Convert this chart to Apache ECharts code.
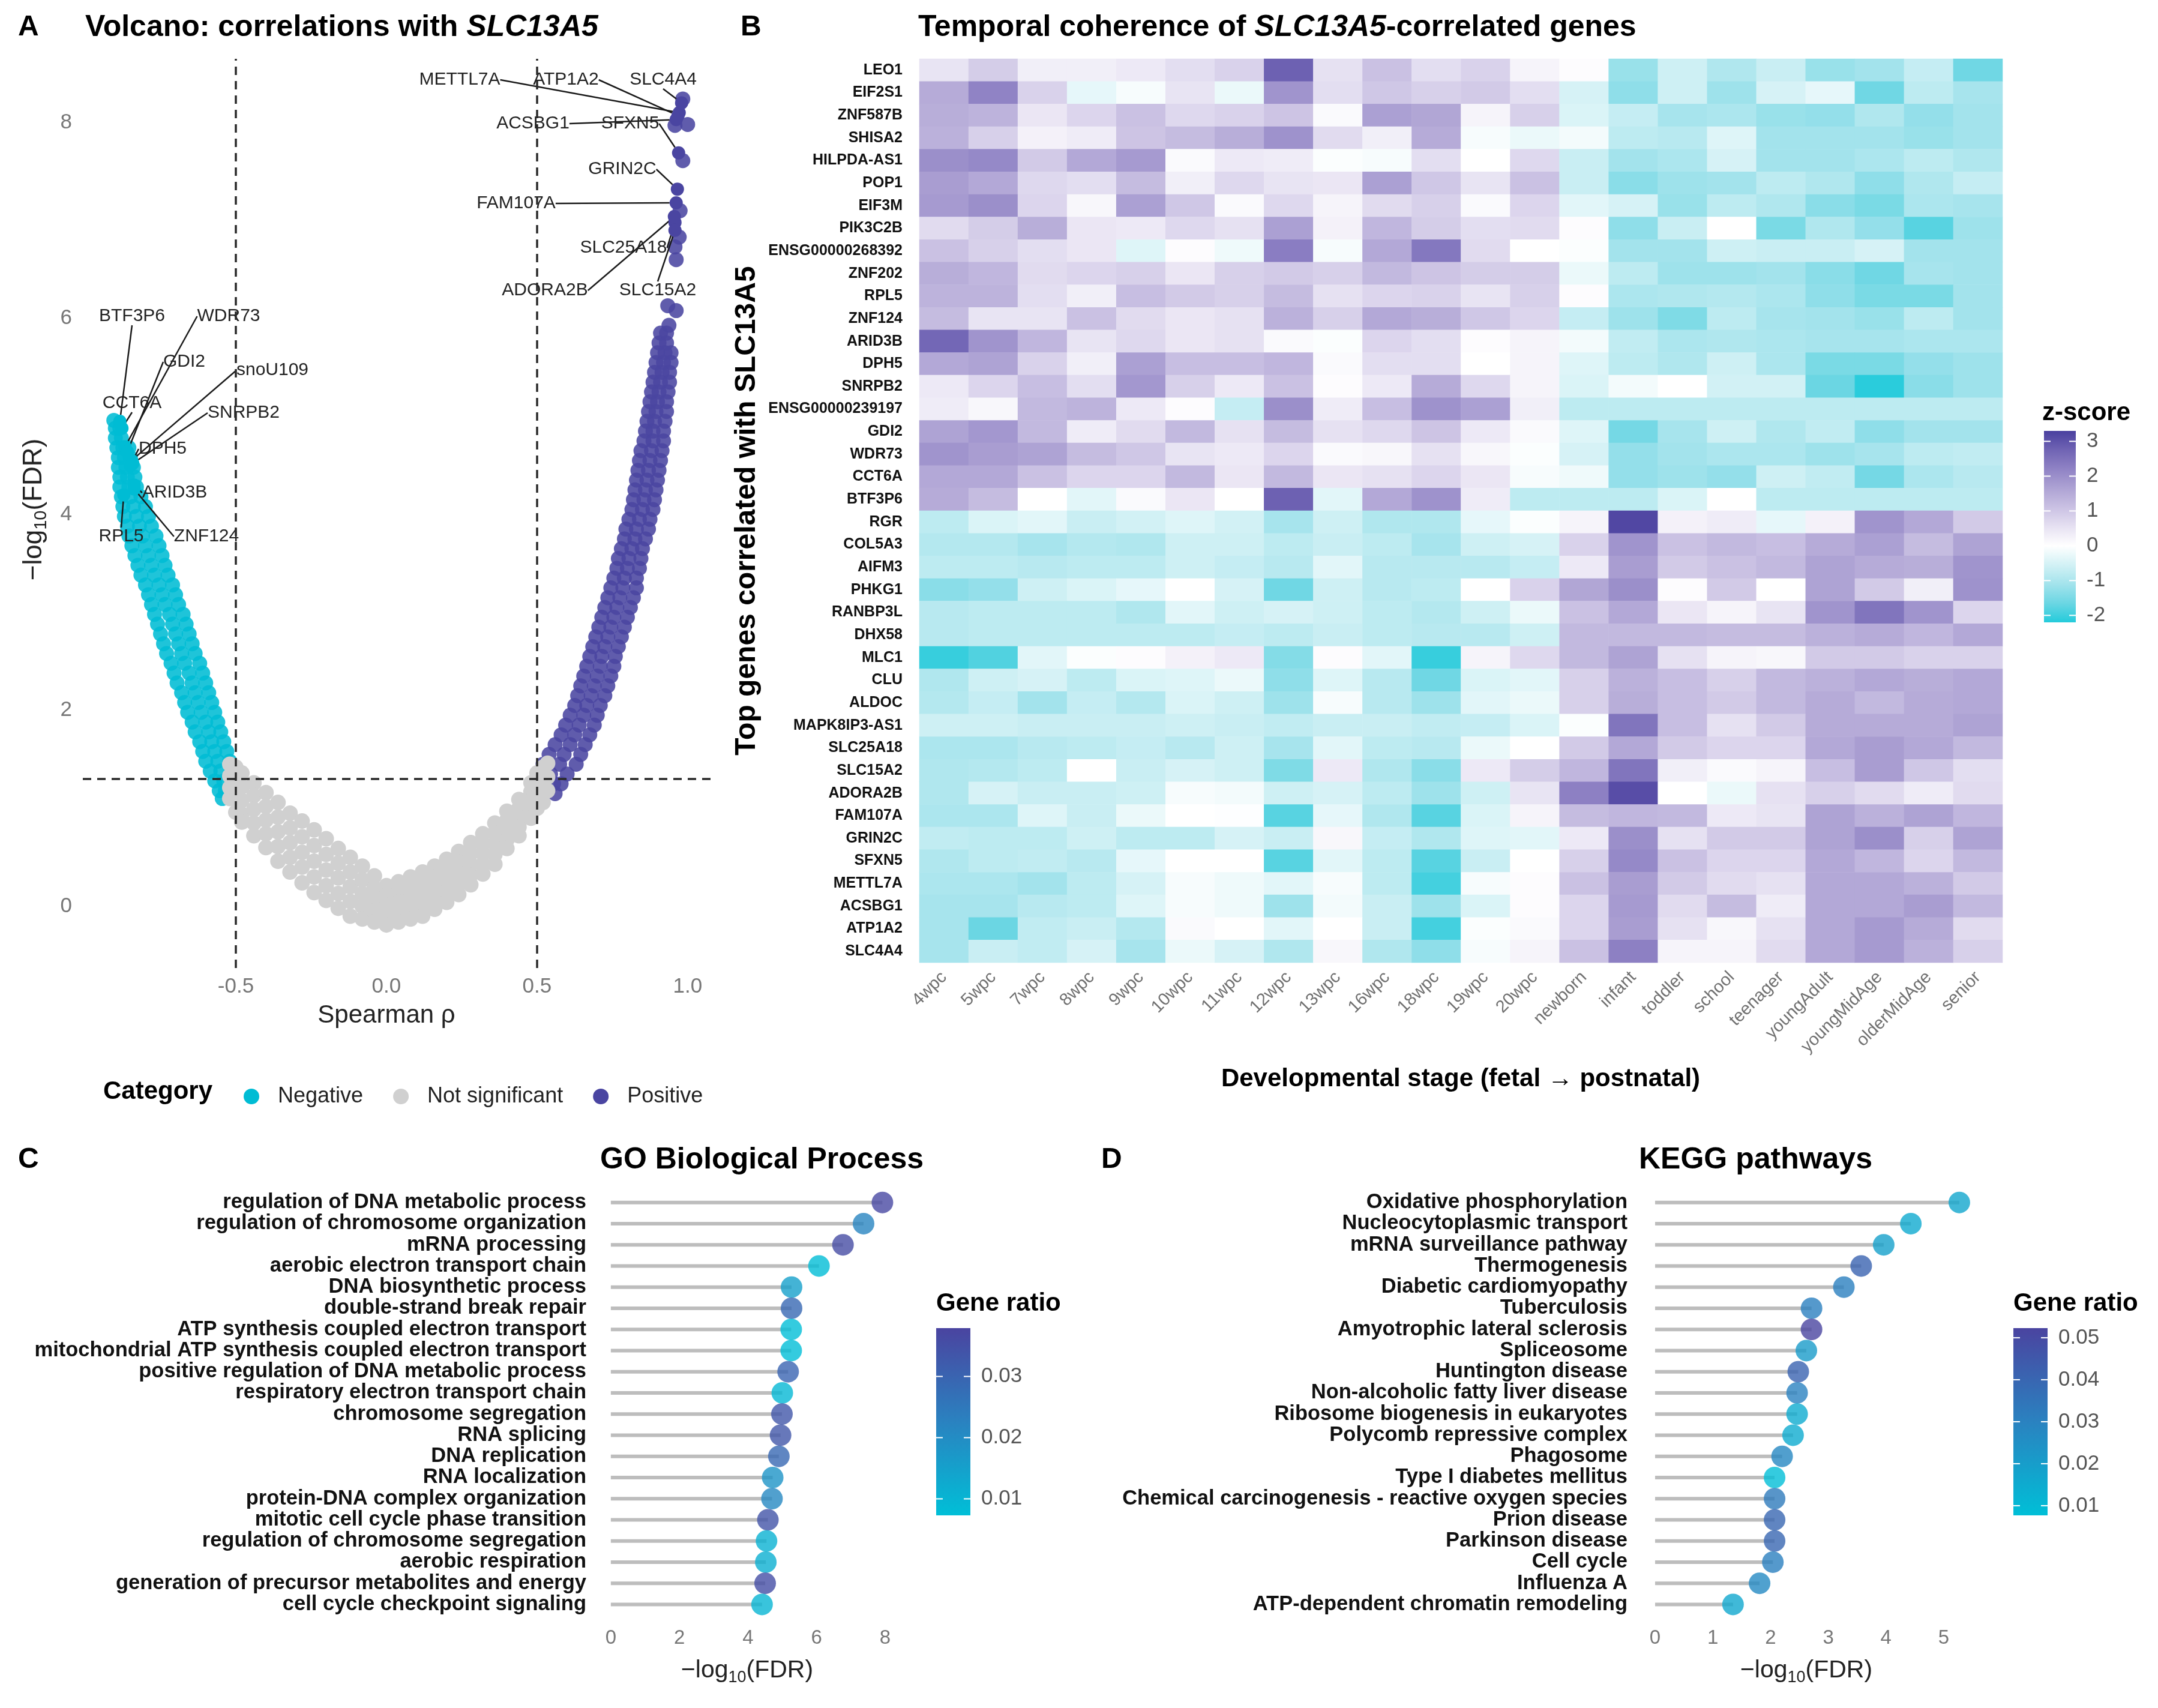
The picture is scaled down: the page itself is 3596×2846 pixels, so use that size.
<!DOCTYPE html>
<html><head><meta charset="utf-8">
<script src="https://cdn.jsdelivr.net/npm/echarts@6/dist/echarts.min.js"></script>
<style>html,body{margin:0;padding:0;background:#fff}#c{width:3596px;height:2846px}</style>
</head><body><div id="c"></div>
<script>
// ---------------- DATA ----------------
// Panel A: volcano (Spearman rho, -log10 FDR)
const negPoints = [
[-0.905,4.96],[-0.900,4.88],[-0.885,4.88],[-0.900,4.78],[-0.880,4.78],
[-0.895,4.68],[-0.875,4.68],[-0.855,4.68],[-0.890,4.58],[-0.870,4.58],[-0.850,4.58],
[-0.890,4.48],[-0.865,4.48],[-0.840,4.48],[-0.885,4.38],[-0.860,4.38],[-0.835,4.38],
[-0.885,4.28],[-0.855,4.28],[-0.830,4.28],[-0.880,4.18],[-0.850,4.18],[-0.815,4.18],
[-0.875,4.08],[-0.840,4.08],[-0.800,4.08],[-0.870,3.98],[-0.830,3.98],[-0.790,3.98],
[-0.860,3.88],[-0.820,3.88],[-0.780,3.88],[-0.855,3.78],[-0.810,3.78],[-0.765,3.78],
[-0.845,3.68],[-0.800,3.68],[-0.755,3.68],[-0.835,3.58],[-0.790,3.58],[-0.745,3.58],
[-0.825,3.48],[-0.780,3.48],[-0.735,3.48],[-0.815,3.38],[-0.770,3.38],[-0.725,3.38],
[-0.800,3.28],[-0.755,3.28],[-0.710,3.28],[-0.790,3.18],[-0.745,3.18],[-0.700,3.18],
[-0.780,3.08],[-0.735,3.08],[-0.690,3.08],[-0.770,2.98],[-0.720,2.98],[-0.675,2.98],
[-0.760,2.88],[-0.710,2.88],[-0.665,2.88],[-0.750,2.78],[-0.700,2.78],[-0.655,2.78],
[-0.740,2.68],[-0.690,2.68],[-0.645,2.68],[-0.730,2.58],[-0.680,2.58],[-0.635,2.58],
[-0.715,2.48],[-0.670,2.48],[-0.620,2.48],[-0.705,2.38],[-0.655,2.38],[-0.610,2.38],
[-0.695,2.28],[-0.645,2.28],[-0.600,2.28],[-0.680,2.18],[-0.635,2.18],[-0.590,2.18],
[-0.670,2.08],[-0.625,2.08],[-0.580,2.08],[-0.660,1.98],[-0.615,1.98],[-0.570,1.98],
[-0.645,1.88],[-0.600,1.88],[-0.560,1.88],[-0.635,1.78],[-0.590,1.78],[-0.550,1.78],
[-0.620,1.68],[-0.580,1.68],[-0.540,1.68],[-0.610,1.58],[-0.570,1.58],[-0.530,1.58],
[-0.600,1.48],[-0.560,1.48],[-0.520,1.48],[-0.585,1.38],[-0.550,1.38],[-0.515,1.38],
[-0.570,1.28],[-0.540,1.28],[-0.555,1.18],[-0.535,1.18],[-0.545,1.10]
];
const nsPoints = [
[-0.52,1.45],[-0.52,1.33],[-0.52,1.21],[-0.52,1.10],
[-0.50,1.42],[-0.50,1.26],[-0.50,1.10],[-0.50,0.96],
[-0.48,1.36],[-0.48,1.22],[-0.48,1.08],[-0.48,0.94],[-0.48,0.86],
[-0.44,1.26],[-0.44,1.13],[-0.44,0.99],[-0.44,0.85],[-0.44,0.72],
[-0.40,1.16],[-0.40,1.02],[-0.40,0.88],[-0.40,0.74],[-0.40,0.60],
[-0.36,1.06],[-0.36,0.91],[-0.36,0.76],[-0.36,0.61],[-0.36,0.46],
[-0.32,0.95],[-0.32,0.80],[-0.32,0.65],[-0.32,0.50],[-0.32,0.35],
[-0.28,0.87],[-0.28,0.71],[-0.28,0.55],[-0.28,0.40],[-0.28,0.24],
[-0.24,0.78],[-0.24,0.62],[-0.24,0.46],[-0.24,0.30],[-0.24,0.14],
[-0.20,0.69],[-0.20,0.53],[-0.20,0.37],[-0.20,0.21],[-0.20,0.06],
[-0.16,0.59],[-0.16,0.44],[-0.16,0.29],[-0.16,0.13],[-0.16,-0.02],
[-0.12,0.50],[-0.12,0.35],[-0.12,0.20],[-0.12,0.05],[-0.12,-0.10],
[-0.08,0.41],[-0.08,0.27],[-0.08,0.13],[-0.08,0.00],[-0.08,-0.13],
[-0.04,0.31],[-0.04,0.19],[-0.04,0.07],[-0.04,-0.05],[-0.04,-0.16],
[0.00,0.21],[0.00,0.11],[0.00,0.01],[0.00,-0.09],[0.00,-0.19],
[0.04,0.25],[0.04,0.14],[0.04,0.04],[0.04,-0.06],[0.04,-0.16],
[0.08,0.30],[0.08,0.19],[0.08,0.08],[0.08,-0.03],[0.08,-0.13],
[0.12,0.35],[0.12,0.23],[0.12,0.12],[0.12,0.01],[0.12,-0.10],
[0.16,0.41],[0.16,0.30],[0.16,0.19],[0.16,0.08],[0.16,-0.03],
[0.20,0.48],[0.20,0.37],[0.20,0.26],[0.20,0.15],[0.20,0.04],
[0.24,0.56],[0.24,0.45],[0.24,0.34],[0.24,0.23],[0.24,0.12],
[0.28,0.65],[0.28,0.54],[0.28,0.43],[0.28,0.32],[0.28,0.22],
[0.32,0.74],[0.32,0.64],[0.32,0.54],[0.32,0.43],[0.32,0.33],
[0.36,0.85],[0.36,0.75],[0.36,0.64],[0.36,0.53],[0.36,0.43],
[0.40,0.97],[0.40,0.88],[0.40,0.78],[0.40,0.68],[0.40,0.59],
[0.44,1.09],[0.44,1.00],[0.44,0.91],[0.44,0.81],[0.44,0.72],
[0.48,1.26],[0.48,1.17],[0.48,1.08],[0.48,0.99],[0.48,0.90],
[0.50,1.36],[0.50,1.24],[0.50,1.12],[0.50,1.00],
[0.52,1.42],[0.52,1.30],[0.52,1.18],[0.52,1.06],
[0.535,1.46],[0.535,1.32],[0.535,1.18]
];
const posPoints = [
[0.984,8.24],[0.958,7.97],[1.000,7.98],[0.984,7.61],[0.975,7.10],[0.972,6.83],
[0.958,6.73],[0.962,6.60],[0.934,6.13],[0.962,6.08],[0.938,5.93],
[0.910,5.85],[0.930,5.85],[0.905,5.75],[0.930,5.75],
[0.900,5.65],[0.925,5.65],[0.945,5.65],[0.895,5.55],[0.920,5.55],[0.945,5.55],
[0.890,5.45],[0.915,5.45],[0.940,5.45],[0.885,5.35],[0.910,5.35],[0.940,5.35],
[0.880,5.25],[0.905,5.25],[0.935,5.25],[0.875,5.15],[0.900,5.15],[0.930,5.15],
[0.870,5.05],[0.895,5.05],[0.930,5.05],[0.865,4.95],[0.890,4.95],[0.925,4.95],
[0.860,4.85],[0.885,4.85],[0.920,4.85],[0.855,4.75],[0.885,4.75],[0.920,4.75],
[0.845,4.65],[0.880,4.65],[0.915,4.65],[0.840,4.55],[0.875,4.55],[0.910,4.55],
[0.835,4.45],[0.870,4.45],[0.905,4.45],[0.830,4.35],[0.865,4.35],[0.900,4.35],
[0.825,4.25],[0.860,4.25],[0.895,4.25],[0.820,4.15],[0.855,4.15],[0.890,4.15],
[0.815,4.05],[0.850,4.05],[0.885,4.05],[0.805,3.95],[0.840,3.95],[0.875,3.95],
[0.795,3.85],[0.830,3.85],[0.870,3.85],[0.790,3.75],[0.825,3.75],[0.860,3.75],
[0.780,3.65],[0.815,3.65],[0.850,3.65],[0.770,3.55],[0.805,3.55],[0.845,3.55],
[0.765,3.45],[0.800,3.45],[0.840,3.45],[0.755,3.35],[0.790,3.35],[0.830,3.35],
[0.745,3.25],[0.785,3.25],[0.830,3.25],[0.735,3.15],[0.775,3.15],[0.820,3.15],
[0.725,3.05],[0.765,3.05],[0.810,3.05],[0.715,2.95],[0.755,2.95],[0.800,2.95],
[0.705,2.85],[0.745,2.85],[0.790,2.85],[0.695,2.75],[0.735,2.75],[0.780,2.75],
[0.685,2.65],[0.725,2.65],[0.770,2.65],[0.675,2.55],[0.715,2.55],[0.760,2.55],
[0.665,2.45],[0.710,2.45],[0.755,2.45],[0.655,2.35],[0.700,2.35],[0.745,2.35],
[0.645,2.25],[0.690,2.25],[0.735,2.25],[0.635,2.15],[0.680,2.15],[0.725,2.15],
[0.625,2.05],[0.665,2.05],[0.710,2.05],[0.610,1.95],[0.655,1.95],[0.700,1.95],
[0.595,1.85],[0.640,1.85],[0.690,1.85],[0.580,1.75],[0.625,1.75],[0.675,1.75],
[0.560,1.65],[0.610,1.65],[0.660,1.65],[0.540,1.55],[0.590,1.55],[0.645,1.55],
[0.520,1.45],[0.575,1.45],[0.630,1.45],[0.545,1.35],[0.600,1.35],
[0.555,1.25],[0.580,1.25],[0.560,1.15]
];
const negLabelGenes = ['BTF3P6','WDR73','GDI2','snoU109','CCT6A','SNRPB2','DPH5','ARID3B','RPL5','ZNF124'];
const negLabelPoints = [[-0.885,4.95],[-0.868,4.69],[-0.860,4.64],[-0.846,4.55],[-0.878,4.88],[-0.842,4.52],[-0.850,4.50],[-0.838,4.30],[-0.872,4.20],[-0.838,4.26]];
const posLabelGenes = ['METTL7A','ATP1A2','SLC4A4','ACSBG1','SFXN5','GRIN2C','FAM107A','SLC25A18','ADORA2B','SLC15A2'];
const posLabelPoints = [[0.972,8.10],[0.968,8.07],[0.980,8.20],[0.962,8.03],[0.970,7.69],[0.966,7.32],[0.962,7.18],[0.958,6.98],[0.956,7.04],[0.958,6.90]];
const volcanoXTicks = [-0.5, 0, 0.5, 1.0];
const volcanoYTicks = [0, 2, 4, 6, 8];

// Panel B: heatmap
const stages = ['4wpc','5wpc','7wpc','8wpc','9wpc','10wpc','11wpc','12wpc','13wpc','16wpc','18wpc','19wpc','20wpc','newborn','infant','toddler','school','teenager','youngAdult','youngMidAge','olderMidAge','senior'];
const genes = ['LEO1','EIF2S1','ZNF587B','SHISA2','HILPDA-AS1','POP1','EIF3M','PIK3C2B','ENSG00000268392','ZNF202','RPL5','ZNF124','ARID3B','DPH5','SNRPB2','ENSG00000239197','GDI2','WDR73','CCT6A','BTF3P6','RGR','COL5A3','AIFM3','PHKG1','RANBP3L','DHX58','MLC1','CLU','ALDOC','MAPK8IP3-AS1','SLC25A18','SLC15A2','ADORA2B','FAM107A','GRIN2C','SFXN5','METTL7A','ACSBG1','ATP1A2','SLC4A4'];
const zScores = [
[0.5,0.9,0.3,0.3,0.4,0.6,0.8,2.8,0.55,1.1,0.6, 0.8,0.2,0.05,-1.2,-0.6,-0.95,-0.65,-1.2,-1.1,-0.7,-1.6],
[1.5,2.2,0.8,-0.3,-0.1,0.5,-0.25,1.9,0.6,1.0,0.85, 0.95,0.6,-0.5,-1.3,-0.6,-1.15,-0.5,-0.3,-1.6,-0.8,-1.05],
[1.45,1.35,0.45,0.75,1.1,0.7,0.8,1.05,0.1,1.7,1.6, 0.2,0.85,-0.45,-0.7,-1.05,-1.0,-1.2,-1.25,-0.95,-1.25,-1.1],
[1.4,0.85,0.25,0.35,1.05,1.2,1.45,1.95,0.65,0.3,1.5, -0.1,-0.25,-0.15,-0.8,-0.85,-0.4,-1.1,-1.1,-1.1,-1.2,-1.1],
[2.0,2.1,0.95,1.55,1.8,0.1,0.4,0.35,-0.05,-0.1,0.6, 0.0,0.7,-0.65,-1.1,-1.0,-0.5,-1.1,-1.1,-1.0,-0.8,-0.95],
[1.75,1.55,0.7,0.6,1.2,0.3,0.7,0.5,0.45,1.7,1.0, 0.5,1.1,-0.65,-1.35,-1.15,-1.1,-0.8,-0.95,-1.3,-0.95,-0.7],
[1.8,2.0,0.75,0.15,1.7,1.0,0.1,0.7,0.2,0.65,0.85, 0.1,0.75,-0.35,-0.5,-1.2,-0.8,-0.95,-1.35,-1.5,-1.0,-1.05],
[0.65,0.9,1.45,0.45,0.4,0.7,0.55,1.7,0.25,1.3,0.9, 0.6,0.65,0.05,-1.3,-0.65,0.0,-1.5,-0.95,-1.25,-1.8,-1.15],
[1.1,0.85,0.6,0.45,-0.4,0.05,-0.2,2.3,-0.1,1.55,2.4, 0.65,0.0,-0.05,-1.1,-1.1,-0.6,-0.65,-0.65,-0.5,-1.1,-1.1],
[1.45,1.3,0.65,0.75,0.85,0.45,0.85,0.95,0.85,1.25,1.05, 0.9,0.9,-0.25,-0.8,-1.15,-1.15,-1.1,-1.35,-1.6,-1.05,-1.1],
[1.35,1.35,0.6,0.3,1.15,0.95,0.85,1.2,0.55,0.75,0.8, 0.5,0.85,0.05,-1.0,-0.95,-0.9,-1.0,-1.3,-1.5,-1.5,-1.1],
[1.2,0.5,0.5,1.1,0.65,0.45,0.55,1.4,0.85,1.55,1.45, 1.0,0.75,-0.7,-1.15,-1.45,-0.8,-1.05,-1.1,-1.2,-0.8,-1.1],
[2.7,1.9,1.3,0.5,0.7,0.45,0.55,0.1,-0.05,0.75,0.6, 0.05,0.2,-0.15,-0.75,-1.0,-0.95,-1.0,-1.05,-1.05,-1.0,-1.0],
[1.55,1.65,0.8,0.3,1.7,1.15,1.15,1.3,0.1,0.6,0.6, 0.0,0.2,-0.4,-0.8,-0.95,-0.6,-1.0,-1.5,-1.5,-1.25,-1.15],
[0.4,0.75,1.15,0.6,1.85,0.85,0.4,1.1,0.05,0.4,1.5, 0.7,0.2,-0.45,-0.15,0.0,-0.55,-0.55,-1.65,-2.15,-1.35,-1.15],
[0.35,0.15,1.25,1.35,0.4,0.05,-0.7,2.0,0.35,1.15,1.95, 1.7,0.3,-0.8,-0.8,-0.8,-0.8,-0.8,-0.8,-0.8,-0.8,-0.8],
[1.65,1.85,1.25,0.35,0.65,1.25,0.55,1.2,0.55,0.7,1.05, 0.4,0.1,-0.4,-1.55,-1.05,-0.6,-0.95,-0.75,-1.3,-1.1,-1.1],
[1.9,1.75,1.65,1.2,1.0,0.5,0.4,0.75,0.1,0.15,0.55, 0.15,-0.05,-0.5,-1.25,-1.1,-1.0,-1.0,-1.15,-1.05,-0.8,-0.75],
[1.55,1.55,1.1,0.75,0.75,1.25,0.45,1.25,0.45,0.55,0.75, 0.45,-0.1,-0.2,-1.25,-1.15,-1.25,-0.6,-0.75,-1.55,-1.0,-0.85],
[1.5,1.2,0.0,-0.35,0.1,0.45,0.0,2.8,-0.35,1.55,1.95, 0.35,-0.8,-0.8,-0.8,-0.45,0.0,-0.8,-0.8,-0.8,-0.8,-0.8],
[-0.8,-0.45,-0.35,-0.65,-0.55,-0.4,-0.55,-1.05,-0.6,-0.95,-0.95, -0.3,-0.05,0.2,3.2,0.25,0.35,-0.3,0.25,1.9,1.55,0.95],
[-0.9,-0.9,-1.05,-0.9,-0.95,-0.6,-0.6,-0.8,-0.65,-0.8,-1.05, -0.6,-0.5,0.8,1.9,1.1,1.25,1.15,1.5,1.7,1.2,1.65],
[-0.8,-0.8,-0.85,-0.8,-0.8,-0.6,-0.7,-0.85,-0.35,-0.85,-0.85, -0.85,-0.7,0.4,1.75,0.95,1.1,1.25,1.65,1.5,1.45,1.9],
[-1.35,-1.25,-0.6,-0.45,-0.3,0.0,-0.5,-1.6,-0.6,-0.85,-0.8, 0.0,0.8,1.6,2.0,0.05,0.95,0.0,1.65,0.95,0.3,1.95],
[-0.85,-0.8,-0.8,-0.8,-0.95,-0.35,-0.6,-0.5,-0.6,-0.8,-0.9, -0.6,-0.25,1.1,1.55,0.45,0.2,0.5,1.9,2.45,1.9,0.75],
[-0.85,-0.8,-0.8,-0.8,-0.8,-0.8,-0.7,-0.8,-0.65,-0.8,-0.85, -0.85,-0.6,1.25,1.25,1.25,1.2,1.2,1.4,1.5,1.3,1.55],
[-2.05,-1.85,-0.35,-0.05,0.05,0.25,0.4,-1.4,0.05,-0.35,-2.05, 0.2,0.7,1.25,1.65,0.55,0.2,0.15,0.95,0.95,0.8,0.8],
[-0.95,-0.6,-0.5,-0.8,-0.45,-0.4,-0.25,-1.3,-0.4,-0.85,-1.6, -0.45,-0.35,0.85,1.4,1.15,0.85,1.25,1.4,1.55,1.45,1.55],
[-0.9,-0.7,-1.1,-0.7,-0.9,-0.45,-0.6,-1.15,-0.1,-0.85,-1.15, -0.35,-0.25,0.85,1.45,1.15,0.95,1.25,1.5,1.25,1.5,1.55],
[-0.6,-0.6,-0.65,-0.65,-0.65,-0.6,-0.65,-0.75,-0.65,-0.65,-0.75, -0.7,-0.45,-0.05,2.45,1.15,0.55,0.95,1.5,1.5,1.5,1.65],
[-1.0,-1.0,-0.85,-0.8,-0.7,-0.85,-0.6,-1.05,-0.35,-0.8,-0.85, -0.25,0.0,0.95,1.55,0.95,0.75,0.75,1.55,1.75,1.55,1.25],
[-0.95,-0.9,-0.8,0.0,-0.65,-0.5,-0.6,-1.45,0.4,-0.95,-1.35, 0.4,0.9,1.3,2.45,0.3,0.1,0.2,1.15,1.75,1.0,0.6],
[-0.95,-0.5,-0.65,-0.65,-0.6,-0.1,-0.15,-0.6,-0.5,-0.8,-1.15, -0.6,0.5,2.25,3.1,0.0,-0.25,0.55,0.85,0.65,0.35,0.65],
[-1.0,-1.0,-0.4,-0.65,-0.25,0.0,-0.02,-1.8,-0.3,-0.95,-1.8, -0.45,0.2,1.2,1.3,1.25,0.4,0.5,1.65,1.4,1.65,1.3],
[-0.75,-0.8,-0.8,-0.6,-0.8,-0.8,-0.5,-0.65,0.15,-0.7,-0.95, -0.4,-0.35,0.4,2.0,0.55,0.95,0.95,1.65,2.0,0.85,1.65],
[-0.95,-0.8,-0.75,-0.85,-0.3,0.0,0.0,-1.8,-0.35,-0.8,-1.8, -0.65,0.0,0.85,2.1,1.1,0.75,0.75,1.55,1.3,0.75,1.25],
[-1.0,-1.0,-1.1,-0.8,-0.5,-0.1,-0.2,-0.35,-0.1,-0.8,-1.95, -0.1,0.05,1.1,1.75,0.95,0.65,0.55,1.55,1.55,1.4,0.95],
[-1.05,-1.05,-0.85,-0.8,-0.4,-0.1,-0.2,-1.15,-0.15,-0.65,-1.15, -0.45,0.05,0.75,1.8,0.65,1.2,0.35,1.55,1.55,1.75,1.25],
[-1.05,-1.65,-0.75,-0.65,-0.9,0.1,0.0,-0.35,0.0,-0.65,-1.95, -0.05,0.1,0.75,1.75,0.55,0.15,0.55,1.55,1.8,1.5,0.65],
[-1.05,-0.65,-0.75,-0.5,-1.05,-0.25,-0.5,-0.95,0.15,-0.95,-1.3, -0.1,0.2,1.1,2.25,0.2,0.2,0.65,1.55,1.8,1.4,0.85]
];
const zLegendTicks = [3, 2, 1, 0, -1, -2];

// Panel C: GO Biological Process
const goTerms = ['regulation of DNA metabolic process','regulation of chromosome organization','mRNA processing','aerobic electron transport chain','DNA biosynthetic process','double-strand break repair','ATP synthesis coupled electron transport','mitochondrial ATP synthesis coupled electron transport','positive regulation of DNA metabolic process','respiratory electron transport chain','chromosome segregation','RNA splicing','DNA replication','RNA localization','protein-DNA complex organization','mitotic cell cycle phase transition','regulation of chromosome segregation','aerobic respiration','generation of precursor metabolites and energy','cell cycle checkpoint signaling'];
const goFDR = [7.92,7.37,6.77,6.07,5.27,5.27,5.26,5.26,5.17,5.00,4.99,4.95,4.90,4.72,4.70,4.58,4.54,4.52,4.50,4.41];
const goRatio = [0.037,0.022,0.036,0.0078,0.015,0.029,0.0075,0.0075,0.030,0.009,0.0335,0.0335,0.029,0.018,0.021,0.034,0.0105,0.0113,0.0355,0.0098];
const goXTicks = [0, 2, 4, 6, 8];
const goRatioTicks = [0.01, 0.02, 0.03];

// Panel D: KEGG pathways
const keggTerms = ['Oxidative phosphorylation','Nucleocytoplasmic transport','mRNA surveillance pathway','Thermogenesis','Diabetic cardiomyopathy','Tuberculosis','Amyotrophic lateral sclerosis','Spliceosome','Huntington disease','Non-alcoholic fatty liver disease','Ribosome biogenesis in eukaryotes','Polycomb repressive complex','Phagosome','Type I diabetes mellitus','Chemical carcinogenesis - reactive oxygen species','Prion disease','Parkinson disease','Cell cycle','Influenza A','ATP-dependent chromatin remodeling'];
const keggFDR = [5.27,4.43,3.96,3.57,3.27,2.71,2.71,2.62,2.48,2.46,2.46,2.39,2.20,2.07,2.07,2.07,2.07,2.04,1.81,1.35];
const keggRatio = [0.017,0.0155,0.019,0.041,0.031,0.031,0.052,0.021,0.041,0.030,0.015,0.015,0.028,0.008,0.033,0.040,0.040,0.031,0.027,0.016];
const keggXTicks = [0, 1, 2, 3, 4, 5];
const keggRatioTicks = [0.01, 0.02, 0.03, 0.04, 0.05];

// ---------------- STYLE / LAYOUT ----------------
const FONT = 'Liberation Sans, Arial, Helvetica, sans-serif';
const CYAN = '#00BCD4', PURPLE = '#4A45A1', GREY = '#D0D0D0';
const zMin = -2.2, zMax = 3.3;
const zColors = ['#24CBDB','#6BD6E3','#A3E3EC','#D2F1F5','#FFFFFF','#E6E1F2','#CAC1E3','#AEA3D4','#9083C5','#7064B4','#4A409F'];
const ratioColors = ['#00BFD7','#2A82C0','#4A44A0'];
const goRange = [0.0073, 0.0379], keggRange = [0.0077, 0.0523];
const negLabelPos = [[220,527],[381,527],[307,603],[454,617],[220,672],[406,688],[271,748],[291,821],[202,894],[344,894]];
const posLabelPos = [[766,133],[943,133],[1105,133],[888,206],[1050,206],[1037,282],[860,339],[1039,413],[908,484],[1096,484]];

const G = {
  A: {left:138, top:98, width:1050, height:1515},
  B: {left:1532, top:98, width:1805, height:1506},
  C: {left:995, top:1986, width:500, height:705},
  D: {left:2732, top:1986, width:557, height:705}
};

function T(x, y, text, o) {
  o = o || {};
  const st = {text: text, fontFamily: FONT, fontSize: o.fs || 36, fontWeight: o.fw || 'normal',
    fontStyle: o.fst || 'normal', fill: o.color || '#000', align: o.align || 'left',
    verticalAlign: o.va || 'middle', textAlign: o.align || 'left', textVerticalAlign: o.va || 'middle'};
  if (o.rich) st.rich = o.rich;
  return {type: 'text', x: x, y: y, rotation: o.rot || 0, z: 100, silent: true, style: st};
}
function richFDR(fs) {
  return {
    a: {fontSize: fs, fontFamily: FONT, fill: '#222', color: '#222'},
    s: {fontSize: Math.round(fs * 0.66), fontFamily: FONT, fill: '#222', color: '#222', padding: [Math.round(fs * 0.55), 0, 0, 0]}
  };
}
function titleRich(fs) {
  return {
    b: {fontSize: fs, fontWeight: 'bold', fontFamily: FONT, fill: '#000', color: '#000'},
    i: {fontSize: fs, fontWeight: 'bold', fontStyle: 'italic', fontFamily: FONT, fill: '#000', color: '#000'}
  };
}
function colorbar(x, y, w, h, colorsBottomToTop, range, ticks, fmt) {
  const n = colorsBottomToTop.length;
  const stops = colorsBottomToTop.map((c, i) => ({offset: 1 - i / (n - 1), color: c})).reverse();
  const els = [{type: 'rect', z: 90, silent: true, shape: {x: x, y: y, width: w, height: h},
    style: {fill: new echarts.graphic.LinearGradient(0, 0, 0, 1, stops)}}];
  ticks.forEach(v => {
    const ty = y + (range[1] - v) / (range[1] - range[0]) * h;
    els.push({type: 'line', z: 95, silent: true, shape: {x1: x, y1: ty, x2: x + 11, y2: ty}, style: {stroke: '#fff', lineWidth: 2}});
    els.push({type: 'line', z: 95, silent: true, shape: {x1: x + w - 11, y1: ty, x2: x + w, y2: ty}, style: {stroke: '#fff', lineWidth: 2}});
    els.push(T(x + w + 18, ty, fmt(v), {fs: 35, color: '#555'}));
  });
  return els;
}

const heatData = [];
zScores.forEach((row, yi) => row.forEach((v, xi) => heatData.push([xi, yi, v])));

const graphics = [].concat(
  [
    T(30, 46, 'A', {fs: 48, fw: 'bold'}),
    T(142, 46, '{b|Volcano: correlations with }{i|SLC13A5}', {rich: titleRich(50)}),
    T(1234, 46, 'B', {fs: 48, fw: 'bold'}),
    T(1530, 46, '{b|Temporal coherence of }{i|SLC13A5}{b|-correlated genes}', {rich: titleRich(50)}),
    T(30, 1933, 'C', {fs: 48, fw: 'bold'}),
    T(1000, 1933, 'GO Biological Process', {fs: 50, fw: 'bold'}),
    T(1835, 1933, 'D', {fs: 48, fw: 'bold'}),
    T(2731, 1933, 'KEGG pathways', {fs: 50, fw: 'bold'}),
    // panel A axis names + legend title
    T(57, 849, '{a|−log}{s|10}{a|(FDR)}', {rot: Math.PI / 2, align: 'center', rich: richFDR(44)}),
    T(644, 1692, 'Spearman ρ', {fs: 42, align: 'center', color: '#222'}),
    T(172, 1819, 'Category', {fs: 42, fw: 'bold'}),
    // panel B axis names + legend
    T(1245, 851, 'Top genes correlated with SLC13A5', {fs: 48, fw: 'bold', rot: Math.PI / 2, align: 'center'}),
    T(2434, 1798, 'Developmental stage (fetal → postnatal)', {fs: 42, fw: 'bold', align: 'center'}),
    T(3403, 688, 'z-score', {fs: 42, fw: 'bold'}),
    // panels C/D axis names + legend titles
    T(1245, 2784, '{a|−log}{s|10}{a|(FDR)}', {align: 'center', rich: richFDR(41)}),
    T(3010, 2784, '{a|−log}{s|10}{a|(FDR)}', {align: 'center', rich: richFDR(41)}),
    T(1560, 2172, 'Gene ratio', {fs: 42, fw: 'bold'}),
    T(3355, 2172, 'Gene ratio', {fs: 42, fw: 'bold'})
  ],
  colorbar(3406, 718, 53, 319, zColors, [zMin, zMax], zLegendTicks, v => String(v)),
  colorbar(1560, 2213, 57, 312, ratioColors, goRange, goRatioTicks, v => v.toFixed(2)),
  colorbar(3355, 2213, 57, 312, ratioColors, keggRange, keggRatioTicks, v => v.toFixed(2))
);

const tickLabel = {fontFamily: FONT, fontSize: 35, color: '#777'};
const noAxisDeco = {axisLine: {show: false}, axisTick: {show: false}, splitLine: {show: false}};

const option = {
  animation: false,
  backgroundColor: '#fff',
  textStyle: {fontFamily: FONT},
  grid: [G.A, G.B, G.C, G.D].map(g => Object.assign({containLabel: false}, g)),
  xAxis: [
    Object.assign({gridIndex: 0, type: 'value', min: -1.008, max: 1.084,
      axisLabel: Object.assign({customValues: volcanoXTicks, formatter: v => v.toFixed(1), margin: 14}, tickLabel)}, noAxisDeco),
    Object.assign({gridIndex: 1, type: 'category', data: stages,
      axisLabel: {interval: 0, rotate: 45, fontFamily: FONT, fontSize: 29, color: '#707070', margin: 20}}, noAxisDeco),
    Object.assign({gridIndex: 2, type: 'value', min: -0.4, max: 8.35,
      axisLabel: Object.assign({customValues: goXTicks, margin: 22}, tickLabel, {fontSize: 33})}, noAxisDeco),
    Object.assign({gridIndex: 3, type: 'value', min: -0.27, max: 5.52,
      axisLabel: Object.assign({customValues: keggXTicks, margin: 22}, tickLabel, {fontSize: 33})}, noAxisDeco)
  ],
  yAxis: [
    Object.assign({gridIndex: 0, type: 'value', min: -0.63, max: 8.65,
      axisLabel: Object.assign({customValues: volcanoYTicks, margin: 18}, tickLabel)}, noAxisDeco),
    Object.assign({gridIndex: 1, type: 'category', data: genes, inverse: true,
      axisLabel: {interval: 0, fontFamily: FONT, fontSize: 25, fontWeight: 'bold', color: '#111', margin: 28}}, noAxisDeco),
    Object.assign({gridIndex: 2, type: 'category', data: goTerms, inverse: true,
      axisLabel: {interval: 0, fontFamily: FONT, fontSize: 34.5, fontWeight: 'bold', color: '#111', margin: 18}}, noAxisDeco),
    Object.assign({gridIndex: 3, type: 'category', data: keggTerms, inverse: true,
      axisLabel: {interval: 0, fontFamily: FONT, fontSize: 34.5, fontWeight: 'bold', color: '#111', margin: 20}}, noAxisDeco)
  ],
  legend: {
    data: [
      {name: 'Negative', itemStyle: {opacity: 1, color: CYAN}},
      {name: 'Not significant', itemStyle: {opacity: 1, color: GREY}},
      {name: 'Positive', itemStyle: {opacity: 1, color: PURPLE}}
    ],
    left: 401, top: 1804, icon: 'circle', itemWidth: 26, itemHeight: 26, itemGap: 50,
    selectedMode: false,
    textStyle: {fontFamily: FONT, fontSize: 36, color: '#222', padding: [0, 0, 0, 26]}
  },
  visualMap: [
    {type: 'continuous', show: false, seriesIndex: 5, dimension: 2, min: zMin, max: zMax, inRange: {color: zColors}},
    {type: 'continuous', show: false, seriesIndex: 7, dimension: 2, min: goRange[0], max: goRange[1], inRange: {color: ratioColors}},
    {type: 'continuous', show: false, seriesIndex: 9, dimension: 2, min: keggRange[0], max: keggRange[1], inRange: {color: ratioColors}}
  ],
  series: [
    {name: 'Negative', type: 'scatter', xAxisIndex: 0, yAxisIndex: 0, data: negPoints, symbolSize: 25, z: 2,
      itemStyle: {color: CYAN, opacity: 0.88}, emphasis: {disabled: true}},
    {name: 'Not significant', type: 'scatter', xAxisIndex: 0, yAxisIndex: 0, data: nsPoints, symbolSize: 26, z: 3,
      itemStyle: {color: GREY, opacity: 1}, emphasis: {disabled: true},
      markLine: {silent: true, symbol: ['none', 'none'], label: {show: false}, animation: false,
        lineStyle: {type: [14, 10], color: '#2a2a2a', width: 3.5},
        data: [{xAxis: -0.5}, {xAxis: 0.5}, {yAxis: 1.301}]}},
    {name: 'Positive', type: 'scatter', xAxisIndex: 0, yAxisIndex: 0, data: posPoints, symbolSize: 25, z: 2,
      itemStyle: {color: PURPLE, opacity: 0.88}, emphasis: {disabled: true}},
    {name: 'negLab', type: 'scatter', xAxisIndex: 0, yAxisIndex: 0, z: 4, symbolSize: 22,
      data: negLabelGenes.map((g, i) => ({name: g, value: negLabelPoints[i]})),
      itemStyle: {color: CYAN, opacity: 1},
      label: {show: true, formatter: '{b}', fontFamily: FONT, fontSize: 30, color: '#222'},
      labelLine: {show: true, lineStyle: {color: '#1a1a1a', width: 2.5}},
      labelLayout: p => ({x: negLabelPos[p.dataIndex][0], y: negLabelPos[p.dataIndex][1], align: 'center', verticalAlign: 'middle', hideOverlap: false}),
      emphasis: {disabled: true}},
    {name: 'posLab', type: 'scatter', xAxisIndex: 0, yAxisIndex: 0, z: 4, symbolSize: 22,
      data: posLabelGenes.map((g, i) => ({name: g, value: posLabelPoints[i]})),
      itemStyle: {color: PURPLE, opacity: 1},
      label: {show: true, formatter: '{b}', fontFamily: FONT, fontSize: 30, color: '#222'},
      labelLine: {show: true, lineStyle: {color: '#1a1a1a', width: 2.5}},
      labelLayout: p => ({x: posLabelPos[p.dataIndex][0], y: posLabelPos[p.dataIndex][1], align: 'center', verticalAlign: 'middle', hideOverlap: false}),
      emphasis: {disabled: true}},
    {name: 'heat', type: 'heatmap', xAxisIndex: 1, yAxisIndex: 1, data: heatData,
      itemStyle: {borderWidth: 0}, emphasis: {disabled: true}, progressive: 0},
    {name: 'goStem', type: 'bar', xAxisIndex: 2, yAxisIndex: 2, data: goFDR, barWidth: 6, z: 2,
      itemStyle: {color: '#BDBDBD'}, emphasis: {disabled: true}, silent: true},
    {name: 'goDot', type: 'scatter', xAxisIndex: 2, yAxisIndex: 2, z: 3, symbolSize: 36,
      data: goFDR.map((v, i) => [v, i, goRatio[i]]), emphasis: {disabled: true}},
    {name: 'keggStem', type: 'bar', xAxisIndex: 3, yAxisIndex: 3, data: keggFDR, barWidth: 6, z: 2,
      itemStyle: {color: '#BDBDBD'}, emphasis: {disabled: true}, silent: true},
    {name: 'keggDot', type: 'scatter', xAxisIndex: 3, yAxisIndex: 3, z: 3, symbolSize: 36,
      data: keggFDR.map((v, i) => [v, i, keggRatio[i]]), emphasis: {disabled: true}}
  ],
  graphic: {elements: graphics}
};

const chart = echarts.init(document.getElementById('c'), null, {renderer: 'canvas', width: 3596, height: 2846});
chart.setOption(option);
</script></body></html>
